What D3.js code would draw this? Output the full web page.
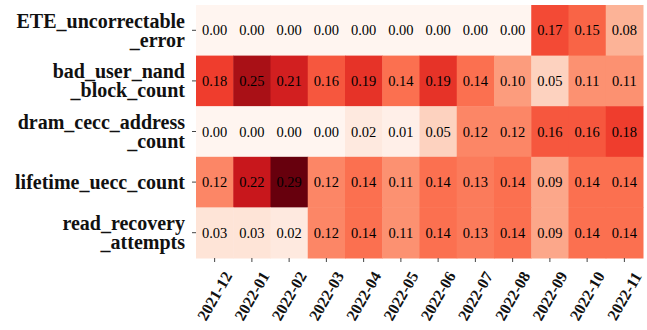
<!DOCTYPE html>
<html>
<head>
<meta charset="utf-8">
<script src="https://cdn.jsdelivr.net/npm/d3@7"></script>
<style>
body{margin:0;background:#fff;}
</style>
</head>
<body>
<div id="chart"></div>
<script>
// months along x, metrics along y
var months = ["2021-12","2022-01","2022-02","2022-03","2022-04","2022-05","2022-06","2022-07","2022-08","2022-09","2022-10","2022-11"];
var metrics = ["ETE_uncorrectable_error","bad_user_nand_block_count","dram_cecc_address_count","lifetime_uecc_count","read_recovery_attempts"];
// label lines for each metric
var metricLines = [["ETE_uncorrectable","_error"],["bad_user_nand","_block_count"],["dram_cecc_address","_count"],["lifetime_uecc_count"],["read_recovery","_attempts"]];

var eteValues   = [0.00,0.00,0.00,0.00,0.00,0.00,0.00,0.00,0.00,0.17,0.15,0.08];
var badValues   = [0.18,0.25,0.21,0.16,0.19,0.14,0.19,0.14,0.10,0.05,0.11,0.11];
var dramValues  = [0.00,0.00,0.00,0.00,0.02,0.01,0.05,0.12,0.12,0.16,0.16,0.18];
var ueccValues  = [0.12,0.22,0.29,0.12,0.14,0.11,0.14,0.13,0.14,0.09,0.14,0.14];
var readValues  = [0.03,0.03,0.02,0.12,0.14,0.11,0.14,0.13,0.14,0.09,0.14,0.14];
var rows = [eteValues,badValues,dramValues,ueccValues,readValues];

var w = 647, h = 330;
var mLeft = 196, mRight = 643, mTop = 5, mBottom = 258;
var serif = "'Times New Roman','Liberation Serif',Tinos,serif";

var svg = d3.select("#chart").append("svg")
    .attr("width",w)
    .attr("height",h);

var x = d3.scaleBand().domain(months).range([mLeft,mRight]);
var y = d3.scaleBand().domain(metrics).range([mTop,mBottom]);

// matplotlib-like Reds (piecewise linear over brewer stops)
var reds = ["#fff5f0","#fee0d2","#fcbba1","#fc9272","#fb6a4a","#ef3b2c","#cb181d","#a50f15","#67000d"];
var color = d3.scaleLinear()
    .domain(d3.range(reds.length).map(function(i){return 0.29*i/(reds.length-1);}))
    .range(reds)
    .clamp(true);

var cells = [];
rows.forEach(function(r,i){
    r.forEach(function(v,j){
        cells.push({m:metrics[i],t:months[j],v:v});
    });
});

svg.selectAll("rect.cell")
    .data(cells)
    .enter()
    .append("rect")
    .attr("class","cell")
    .attr("x",function(d){return x(d.t);})
    .attr("y",function(d){return y(d.m);})
    .attr("width",x.bandwidth()+0.5)
    .attr("height",y.bandwidth()+0.5)
    .attr("fill",function(d){return color(d.v);});

svg.selectAll("text.val")
    .data(cells)
    .enter()
    .append("text")
    .attr("class","val")
    .attr("x",function(d){return x(d.t)+x.bandwidth()/2;})
    .attr("y",function(d){return y(d.m)+y.bandwidth()/2;})
    .attr("text-anchor","middle")
    .attr("dominant-baseline","central")
    .attr("font-family",serif)
    .attr("font-size","14.5px")
    .attr("fill","#000")
    .text(function(d){return d.v.toFixed(2);});

// y axis
var yAxis = svg.append("g")
    .attr("transform","translate("+mLeft+",0)")
    .call(d3.axisLeft(y).tickSize(4).tickFormat(""));
yAxis.select(".domain").remove();
yAxis.selectAll(".tick line").attr("stroke","#444");

var capH = 14, lh = 19;
svg.selectAll("text.ylab")
    .data(metrics)
    .enter()
    .append("text")
    .attr("class","ylab")
    .attr("text-anchor","end")
    .attr("font-family",serif)
    .attr("font-weight","bold")
    .attr("font-size","20px")
    .attr("fill","#111")
    .each(function(d,i){
        var lines = metricLines[i];
        var cy = y(d)+y.bandwidth()/2;
        var blockH = capH+(lines.length-1)*lh;
        var b0 = cy-blockH/2+capH;
        var t = d3.select(this);
        lines.forEach(function(s,k){
            t.append("tspan")
                .attr("x",185)
                .attr("y",b0+k*lh)
                .text(s);
        });
    });

// x axis
var xAxis = svg.append("g")
    .attr("transform","translate(0,"+mBottom+")")
    .call(d3.axisBottom(x).tickSize(4));
xAxis.select(".domain").remove();
xAxis.selectAll(".tick line").attr("stroke","#444");
xAxis.selectAll(".tick text")
    .attr("font-family",serif)
    .attr("font-weight","bold")
    .attr("font-size","16px")
    .attr("fill","#111")
    .attr("text-anchor","middle")
    .attr("dy",null)
    .attr("y",0)
    .attr("transform","translate(0,38) rotate(-60)")
    .attr("dominant-baseline","central");
</script>
</body>
</html>
